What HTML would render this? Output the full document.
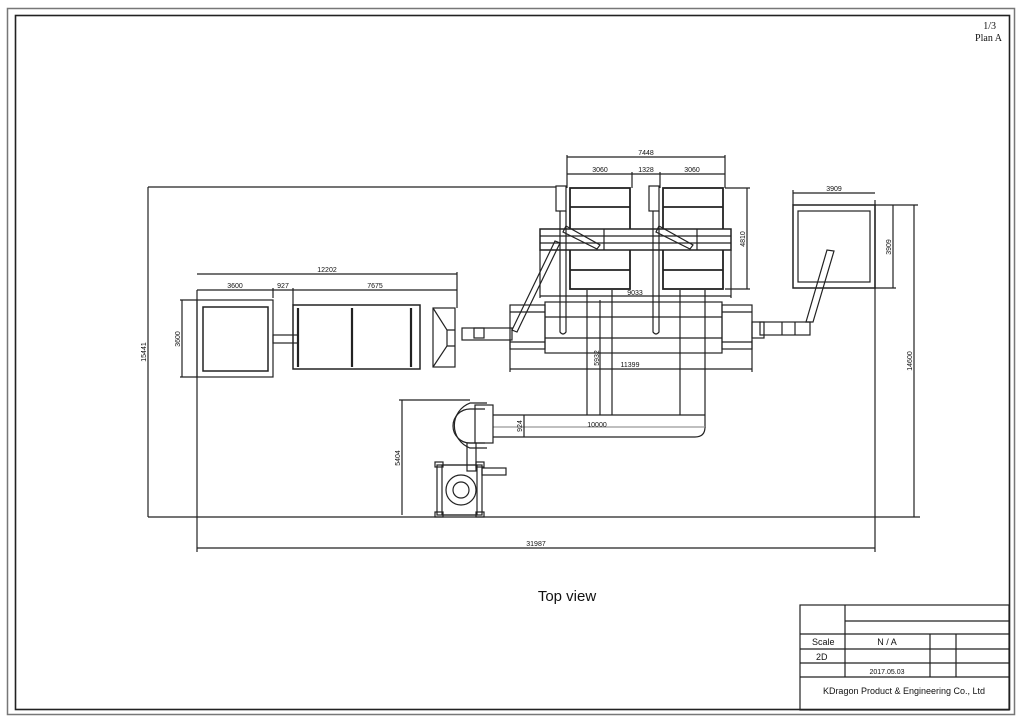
<!DOCTYPE html>
<html><head><meta charset="utf-8"><style>
html,body{margin:0;padding:0;background:#fff}
svg{display:block}
text{font-family:"Liberation Sans",sans-serif;fill:#111}
</style></head><body>
<svg width="1024" height="723" viewBox="0 0 1024 723" xmlns="http://www.w3.org/2000/svg">
<g fill="none" stroke="#222" stroke-width="1.2">
<rect x="7.5" y="8.5" width="1007" height="706" stroke="#777" stroke-width="1.5"/>
<rect x="15.5" y="15.5" width="994" height="694" stroke-width="1.6"/>

<!-- big dims -->
<line x1="148" y1="187" x2="148" y2="517"/>
<line x1="148" y1="187" x2="556" y2="187"/>
<line x1="148" y1="517" x2="920" y2="517"/>
<line x1="197" y1="548" x2="875" y2="548"/>
<line x1="197" y1="290" x2="197" y2="552"/>
<line x1="875" y1="200" x2="875" y2="552"/>
<line x1="914" y1="205" x2="914" y2="517"/>
<line x1="875" y1="205" x2="918" y2="205"/>

<!-- right box -->
<line x1="793" y1="193" x2="875" y2="193"/>
<line x1="793" y1="190" x2="793" y2="205"/>
<rect x="793" y="205" width="82" height="83" stroke-width="1.5"/>
<rect x="798" y="211" width="72" height="71"/>
<line x1="875" y1="288" x2="896" y2="288"/>
<line x1="893" y1="205" x2="893" y2="288"/>
<path d="M827 250 L806 322 L813 322 L834 251 Z"/>
<rect x="760" y="322" width="50" height="13"/>
<rect x="752" y="322" width="12" height="16"/>
<line x1="782" y1="322" x2="782" y2="335"/><line x1="795" y1="322" x2="795" y2="335"/>

<!-- top hoppers dims -->
<line x1="567" y1="157" x2="725" y2="157"/>
<line x1="567" y1="155" x2="567" y2="188"/><line x1="725" y1="155" x2="725" y2="188"/>
<line x1="567" y1="174" x2="725" y2="174"/>
<line x1="632" y1="172" x2="632" y2="188"/><line x1="660" y1="172" x2="660" y2="188"/>
<line x1="747" y1="188" x2="747" y2="289"/>
<line x1="725" y1="188" x2="750" y2="188"/><line x1="725" y1="289" x2="750" y2="289"/>
<line x1="540" y1="296" x2="731" y2="296"/>
<line x1="540" y1="250" x2="540" y2="298"/><line x1="731" y1="250" x2="731" y2="298"/>

<g stroke-width="1.8">
<rect x="570" y="188" width="60" height="101"/>
<rect x="663" y="188" width="60" height="101"/>
<line x1="570" y1="207" x2="630" y2="207"/><line x1="663" y1="207" x2="723" y2="207"/>
<line x1="570" y1="270" x2="630" y2="270"/><line x1="663" y1="270" x2="723" y2="270"/>
</g>
<rect x="540" y="229" width="191" height="21" fill="#fff" stroke-width="1.5"/>
<line x1="540" y1="236" x2="731" y2="236"/><line x1="540" y1="243" x2="731" y2="243"/>
<line x1="604" y1="229" x2="604" y2="250"/><line x1="697" y1="229" x2="697" y2="250"/>
<rect x="556" y="186" width="10" height="25"/><rect x="649" y="186" width="10" height="25"/>
<path d="M560 211 L560 332 Q563 336 566 332 L566 211"/>
<path d="M653 211 L653 332 Q656 336 659 332 L659 211"/>
<path d="M566 226 L600 245 L597 249 L563 232 Z"/>
<path d="M659 226 L693 245 L690 249 L656 232 Z"/>
<path d="M555 241 L512 330 L517 332 L560 243 Z"/>

<!-- conveyor -->
<rect x="545" y="302" width="177" height="51"/>
<line x1="545" y1="317" x2="722" y2="317"/><line x1="545" y1="338" x2="722" y2="338"/>
<rect x="510" y="305" width="35" height="44"/>
<rect x="722" y="305" width="30" height="44"/>
<line x1="510" y1="312" x2="545" y2="312"/><line x1="510" y1="342" x2="545" y2="342"/>
<line x1="722" y1="312" x2="752" y2="312"/><line x1="722" y1="342" x2="752" y2="342"/>
<rect x="462" y="328" width="50" height="12"/>
<rect x="474" y="328" width="10" height="10"/>
<line x1="510" y1="369" x2="752" y2="369"/>
<line x1="510" y1="340" x2="510" y2="372"/><line x1="752" y1="340" x2="752" y2="372"/>

<!-- columns & pipe -->
<line x1="587" y1="290" x2="587" y2="415"/><line x1="612" y1="290" x2="612" y2="415"/>
<line x1="600" y1="300" x2="600" y2="415"/>
<line x1="680" y1="290" x2="680" y2="415"/><line x1="705" y1="290" x2="705" y2="428"/>
<path d="M493 415 L705 415 M493 437 L695 437 Q705 437 705 427"/>
<line x1="493" y1="427" x2="705" y2="427" stroke="#999"/>
<line x1="524" y1="415" x2="524" y2="437"/>
<path d="M487 403 L470 403 A24 24 0 0 0 470 448 L487 448"/>
<path d="M485 409 L470 409 A17 17 0 0 0 470 443 L485 443"/>
<rect x="475" y="405" width="18" height="38"/>
<rect x="467" y="443" width="9" height="28"/>
<line x1="402" y1="400" x2="402" y2="515"/>
<line x1="399" y1="400" x2="470" y2="400"/>
<rect x="437" y="465" width="45" height="50"/>
<rect x="442" y="465" width="35" height="50"/>
<circle cx="461" cy="490" r="15"/><circle cx="461" cy="490" r="8"/>
<rect x="482" y="468" width="24" height="7"/>
<rect x="435" y="462" width="8" height="5"/><rect x="476" y="462" width="8" height="5"/>
<rect x="435" y="512" width="8" height="5"/><rect x="476" y="512" width="8" height="5"/>

<!-- left -->
<line x1="197" y1="274" x2="457" y2="274"/><line x1="457" y1="272" x2="457" y2="308"/>
<line x1="197" y1="290" x2="457" y2="290"/>
<line x1="273" y1="288" x2="273" y2="298"/><line x1="293" y1="288" x2="293" y2="305"/>
<line x1="182" y1="300" x2="182" y2="377"/>
<line x1="180" y1="300" x2="197" y2="300"/><line x1="180" y1="377" x2="197" y2="377"/>
<rect x="197" y="300" width="76" height="77"/>
<rect x="203" y="307" width="65" height="64" stroke-width="1.5"/>
<rect x="273" y="335" width="25" height="8"/>
<rect x="293" y="305" width="127" height="64" stroke-width="1.5"/>
<line x1="298" y1="308" x2="298" y2="367" stroke-width="2.2"/>
<line x1="352" y1="308" x2="352" y2="367" stroke-width="2.2"/>
<line x1="411" y1="308" x2="411" y2="367" stroke-width="2.2"/>
<rect x="433" y="308" width="22" height="59"/>
<path d="M433 308 L447 330 L447 346 L433 367 M455 330 L447 330 M455 346 L447 346"/>

<!-- title block -->
<rect x="800" y="605" width="209" height="105"/>
<line x1="845" y1="605" x2="845" y2="677"/>
<line x1="845" y1="621" x2="1009" y2="621"/>
<line x1="800" y1="634" x2="1009" y2="634"/>
<line x1="800" y1="649" x2="1009" y2="649"/>
<line x1="800" y1="663" x2="1009" y2="663"/>
<line x1="800" y1="677" x2="1009" y2="677"/>
<line x1="930" y1="634" x2="930" y2="677"/>
<line x1="956" y1="634" x2="956" y2="677"/>
</g>

<g font-size="7" text-anchor="middle">
<text x="646" y="155">7448</text>
<text x="600" y="172">3060</text><text x="646" y="172">1328</text><text x="692" y="172">3060</text>
<text x="635" y="295">9033</text>
<text x="630" y="367">11399</text>
<text x="327" y="272">12202</text>
<text x="235" y="288">3600</text><text x="283" y="288">927</text><text x="375" y="288">7675</text>
<text x="834" y="191">3909</text>
<text x="597" y="427">10000</text>
<text x="536" y="546">31987</text>
<text transform="translate(146,352) rotate(-90)">15441</text>
<text transform="translate(180,339) rotate(-90)">3600</text>
<text transform="translate(745,239) rotate(-90)">4810</text>
<text transform="translate(891,247) rotate(-90)">3909</text>
<text transform="translate(912,361) rotate(-90)">14600</text>
<text transform="translate(599,358) rotate(-90)">5932</text>
<text transform="translate(522,426) rotate(-90)">924</text>
<text transform="translate(400,458) rotate(-90)">5404</text>
</g>
<text x="567" y="601" font-size="15" text-anchor="middle">Top view</text>
<text x="996" y="29" font-size="10" text-anchor="end" style="font-family:'Liberation Serif',serif">1/3</text>
<text x="1002" y="41" font-size="10" text-anchor="end" style="font-family:'Liberation Serif',serif">Plan A</text>
<g font-size="9">
<text x="812" y="645">Scale</text>
<text x="816" y="660">2D</text>
<text x="887" y="645" text-anchor="middle">N / A</text>
<text x="887" y="674" text-anchor="middle" font-size="7">2017.05.03</text>
<text x="904" y="694" text-anchor="middle">KDragon Product &amp; Engineering Co., Ltd</text>
</g>
</svg>
</body></html>
